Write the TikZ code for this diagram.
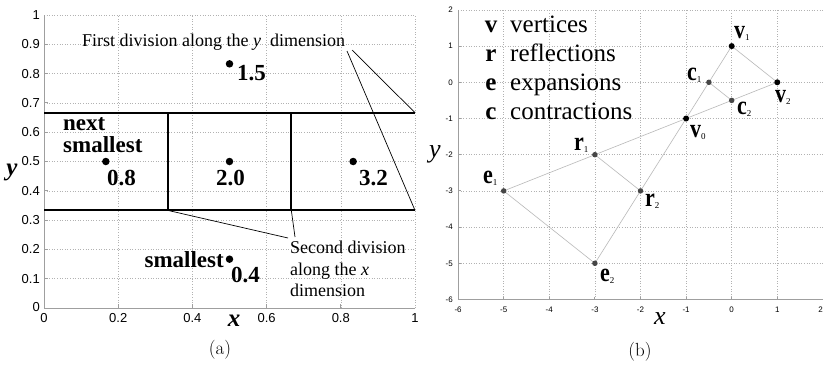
\documentclass[tikz,border=0pt]{standalone}
\usepackage{fontspec}
\usepackage{graphicx}
\newfontfamily\tnr{Liberation Serif}
\newfontfamily\arl{Liberation Sans}
\newcommand\myfs[1]{\fontsize{#1}{#1}\selectfont}
\newcommand\plab[2]{\scalebox{1}[1.2]{\tnr\myfs{22}\bfseries #1}\raisebox{-2pt}{\tnr\myfs{9}#2}}
\pgfdeclarelayer{bg}
\pgfsetlayers{bg,main}
\begin{document}
\begin{tikzpicture}[x=1pt,y=-1pt,
  gridl/.style={gray!60, dotted, line width=0.6pt},
  axisl/.style={gray!75, line width=0.9pt},
  divl/.style={black, line width=1.8pt},
  annl/.style={black, line width=0.7pt},
  bigdot/.style={circle, fill=black, inner sep=0pt, minimum size=7.5pt},
  vdot/.style={circle, fill=black, inner sep=0pt, minimum size=6pt},
  gdot/.style={circle, fill=gray!55!black, inner sep=0pt, minimum size=5.5pt},
  simpl/.style={gray!55, line width=0.6pt},
  txt/.style={inner sep=0pt, font=\tnr},
  tickl/.style={inner sep=0pt, font=\arl\myfs{13}},
  tickr/.style={inner sep=0pt, font=\arl\myfs{8}},
  bnum/.style={inner sep=0pt, anchor=base west, font=\tnr\myfs{23}\bfseries},
  bword/.style={inner sep=0pt, anchor=base west, font=\tnr\myfs{23}\bfseries},
  annt/.style={inner sep=0pt, anchor=base west, font=\tnr\myfs{18}},
  legl/.style={inner sep=0pt, anchor=base, font=\tnr\myfs{25}\bfseries},
  legw/.style={inner sep=0pt, anchor=base west, font=\tnr\myfs{25}},
  plabel/.style={inner sep=0pt, anchor=base west}
]
\useasboundingbox (0,0) rectangle (823,367);
\begin{pgfonlayer}{bg}
  \fill[white] (0,0) rectangle (823,367);
\end{pgfonlayer}

% ---------------- left panel ----------------
\begin{scope}[shift={(44,308)}, x=371pt, y=293pt]
  \foreach \i in {0.2,0.4,0.6,0.8,1} \draw[gridl] (\i,0) -- (\i,1);
  \foreach \j in {1,...,10} \draw[gridl] (0,\j/10) -- (1,\j/10);
  \draw[axisl] (0,1) -- (0,0) -- (1,0);
  \foreach \i in {0.2,0.4,0.6,0.8} \draw[axisl] (\i,0) -- ++(0pt,4pt);
  \foreach \j in {1,...,9} \draw[axisl] (0,\j/10) -- ++(4pt,0pt);
  \coordinate (h1l) at (0,2/3);
  \coordinate (h1r) at (1,2/3);
  \coordinate (h2l) at (0,1/3);
  \coordinate (h2r) at (1,1/3);
  \coordinate (va1) at (1/3,2/3);
  \coordinate (vb1) at (1/3,1/3);
  \coordinate (va2) at (2/3,2/3);
  \coordinate (vb2) at (2/3,1/3);
  \draw[divl] (h1l) -- (h1r);
  \draw[divl] (h2l) -- (h2r);
  \draw[divl] (va1) -- (vb1);
  \draw[divl] (va2) -- (vb2);
  \node[bigdot] (p15) at (0.5,5/6) {};
  \node[bigdot] (p08) at (1/6,0.5) {};
  \node[bigdot] (p20) at (0.5,0.5) {};
  \node[bigdot] (p32) at (5/6,0.5) {};
  \node[bigdot] (p04) at (0.5,1/6) {};
\end{scope}

% tick labels left
\foreach \v/\p in {0/44, 0.2/118.2, 0.4/192.4, 0.6/266.6, 0.8/340.8, 1/415}
  \node[tickl] (xt\p) at (\p,318) {\v};
\foreach \v/\p in {0/307, 0.1/278.7, 0.2/249.4, 0.3/220.1, 0.4/190.8, 0.5/161.5, 0.6/132.2, 0.7/102.9, 0.8/73.6, 0.9/44.3, 1/15}
  \node[tickl, anchor=east] (yt\p) at (40,\p) {\v};

% values
\node[bnum] (t15) at (237,80) {1.5};
\node[bnum] (t08) at (107,185) {0.8};
\node[bnum, anchor=base] (t20) at (230.5,185) {2.0};
\node[bnum] (t32) at (359,185) {3.2};
\node[bnum] (t04) at (231,282) {0.4};
\node[bword, anchor=base east] (tsm) at (224,267) {smallest};
\node[bword] (tnx1) at (63,130) {next};
\node[bword] (tnx2) at (63,152) {smallest};

% axis labels left
\node[txt, font=\tnr\myfs{25}\bfseries\itshape] (lya) at (12,172) {y};
\node[txt, font=\tnr\myfs{25}\bfseries\itshape] (lxa) at (234,321) {x};

% annotations
\node[annt] (fdt) at (82,46) {First division along the \textit{y}\ \ dimension};
\coordinate (fa) at (352,50);
\coordinate (fb) at (347,51);
\draw[annl] (fa) -- (h1r);
\draw[annl] (fb) -- (h2r);
\node[annt] (sd1) at (290,253) {Second division};
\node[annt] (sd2) at (290,275) {along the \textit{x}};
\node[annt] (sd3) at (290,296) {dimension};
\coordinate (sa) at (288,238);
\coordinate (sb) at (295,237);
\draw[annl] (sa) -- (vb1);
\draw[annl] (sb) -- (vb2);

\node[inner sep=0pt, font=\myfs{19}] (capa) at (220,350) {(a)};

% ---------------- right panel ----------------
\begin{scope}[shift={(731.7,82.3)}, x=45.6pt, y=36.2pt]
  \foreach \i in {-5,...,2} \draw[gridl] (\i,-6) -- (\i,2);
  \foreach \j in {-5,...,2} \draw[gridl] (-6,\j) -- (2,\j);
  \draw[axisl] (-6,2) -- (-6,-6) -- (2,-6);
  \foreach \i in {-5,...,1} \draw[axisl] (\i,-6) -- ++(0pt,3pt);
  \foreach \j in {-5,...,1} \draw[axisl] (-6,\j) -- ++(3pt,0pt);
  \node[vdot] (v0) at (-1,-1) {};
  \node[vdot] (v1) at (0,1) {};
  \node[vdot] (v2) at (1,0) {};
  \node[gdot] (c1) at (-0.5,0) {};
  \node[gdot] (c2) at (0,-0.5) {};
  \node[gdot] (r1) at (-3,-2) {};
  \node[gdot] (r2) at (-2,-3) {};
  \node[gdot] (e1) at (-5,-3) {};
  \node[gdot] (e2) at (-3,-5) {};
  \begin{pgfonlayer}{bg}
    \draw[simpl] (v2.center) -- (c2.center) -- (v0.center) -- (r1.center) -- (e1.center);
    \draw[simpl] (v1.center) -- (c1.center) -- (v0.center) -- (r2.center) -- (e2.center);
    \draw[simpl] (v1.center) -- (v2.center);
    \draw[simpl] (c1.center) -- (c2.center);
    \draw[simpl] (r1.center) -- (r2.center);
    \draw[simpl] (e1.center) -- (e2.center);
  \end{pgfonlayer}
\end{scope}

\foreach \v in {-6,...,1}
  \node[tickr] (rxt\v) at ({731.7+45.6*\v},310) {\v};
\node[tickr, anchor=east] (rxt2) at (823,310) {2};
\foreach \v in {-6,...,2}
  \node[tickr, anchor=east] (ryt\v) at (453,{82.3-36.2*\v}) {\v};

% legend
\node[legl] (lgv) at (491,32) {v};
\node[legw] (lgvt) at (510,32) {vertices};
\node[legl] (lgr) at (491,61) {r};
\node[legw] (lgrt) at (510,61) {reflections};
\node[legl] (lge) at (491,90) {e};
\node[legw] (lget) at (510,90) {expansions};
\node[legl] (lgc) at (491,119) {c};
\node[legw] (lgct) at (510,119) {contractions};

% point labels
\node[plabel] (lv1) at (734,38) {\plab{v}{1}};
\node[plabel] (lv2) at (775,102) {\plab{v}{2}};
\node[plabel] (lv0) at (690,137) {\plab{v}{0}};
\node[plabel] (lc1) at (687,80) {\plab{c}{1}};
\node[plabel] (lc2) at (737,114) {\plab{c}{2}};
\node[plabel] (lr1) at (574,150) {\plab{r}{1}};
\node[plabel] (lr2) at (645,206) {\plab{r}{2}};
\node[plabel] (le1) at (483,183) {\plab{e}{1}};
\node[plabel] (le2) at (600,281) {\plab{e}{2}};

% axis labels right
\node[txt, font=\tnr\myfs{26}\itshape] (rya) at (435,154) {y};
\node[txt, font=\tnr\myfs{26}\itshape] (rxa) at (660,319) {x};

\node[inner sep=0pt, font=\myfs{19}] (capb) at (640,352) {(b)};
\end{tikzpicture}
\end{document}
